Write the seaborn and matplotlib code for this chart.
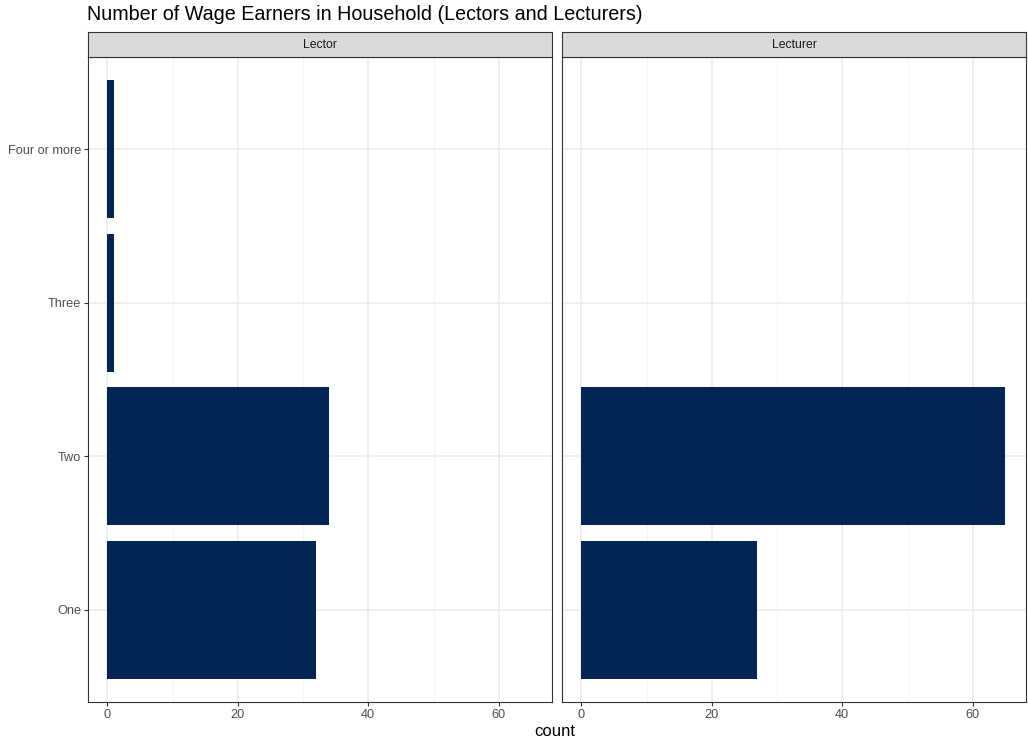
import matplotlib
matplotlib.use("Agg")
import matplotlib.pyplot as plt
from matplotlib.ticker import MultipleLocator
import seaborn as sns
import pandas as pd

categories = ["One", "Two", "Three", "Four or more"]
lector_counts = [32, 34, 1, 1]
lecturer_counts = [27, 65, 0, 0]
panels = ["Lector", "Lecturer"]
x_ticks = [0, 20, 40, 60]

sns.set_theme(style="white")
plt.rcParams["font.family"] = ["Liberation Sans", "DejaVu Sans"]

BAR = "#022654"
fig = plt.figure(figsize=(10.28, 7.4), dpi=100)
W, H = 1028, 740
order = categories[::-1]

for i, (name, vals) in enumerate(zip(panels, [lector_counts, lecturer_counts])):
    left = [88, 562][i]
    ax = fig.add_axes([left / W, (H - 702) / H, 464 / W, (702 - 57) / H])
    df = pd.DataFrame({"cat": categories, "count": vals})
    sns.barplot(data=df, x="count", y="cat", order=order, orient="h",
                color=BAR, saturation=1, width=0.9, linewidth=0, ax=ax, zorder=3)
    ax.set_xlim(-2.95, 68.15)
    ax.set_ylim(3.6, -0.6)
    ax.set_xticks(x_ticks)
    ax.xaxis.set_minor_locator(MultipleLocator(10))
    ax.grid(True, which="major", color="#EBEBEB", lw=1.1, zorder=0)
    ax.grid(True, which="minor", axis="x", color="#F2F2F2", lw=0.6, zorder=0)
    ax.set_axisbelow(True)
    for s in ax.spines.values():
        s.set_color("#333333"); s.set_linewidth(0.8); s.set_visible(True)
    ax.tick_params(axis="both", which="major", length=3, width=0.8, color="#333333",
                   labelcolor="#4D4D4D", labelsize=9.2, pad=2, left=True, bottom=True)
    ax.tick_params(axis="x", which="minor", length=0)
    ax.set_xlabel(""); ax.set_ylabel("")
    if i == 1:
        ax.tick_params(axis="y", left=False, labelleft=False)
    # strip
    sax = fig.add_axes([left / W, (H - 57) / H, 464 / W, 25 / H])
    sax.set_facecolor("#D9D9D9")
    sax.set_xticks([]); sax.set_yticks([])
    for s in sax.spines.values():
        s.set_color("#333333"); s.set_linewidth(0.8)
    sax.text(0.5, 0.5, name, ha="center", va="center", fontsize=8.8, color="#1A1A1A",
             transform=sax.transAxes)

fig.text(87 / W, 1 - 15 / H, "Number of Wage Earners in Household (Lectors and Lecturers)",
         ha="left", va="center", fontsize=14.2, color="black")
fig.text(555 / W, 1 - 732 / H, "count", ha="center", va="center", fontsize=12, color="black")

fig.savefig("out.png", dpi=100)
